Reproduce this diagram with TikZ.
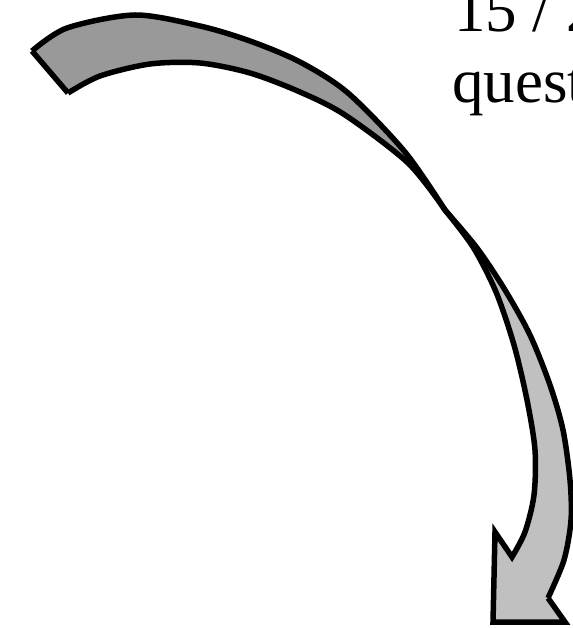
\documentclass[tikz,border=0pt]{standalone}
\usepackage{fontspec}
\setmainfont{Liberation Serif}
\definecolor{backface}{HTML}{999999}
\definecolor{frontface}{HTML}{C0C0C0}
\tikzset{
  outline/.style={draw=black, line width=5.5pt, line join=miter, miter limit=10},
  label/.style={anchor=base west, inner sep=0pt, font=\fontsize{63}{70}\selectfont}
}
\begin{document}
\begin{tikzpicture}[x=1pt,y=-1pt]
\useasboundingbox (0,0) rectangle (572,628);
\def\topedge{(32,51) (67,28) (135,15) (200,26) (250,41) (300,62) (348,93) (405,152) (445,210)}
\def\lowedge{(445,210) (408,163) (345,115) (300,92) (250,73) (200,63) (150,64) (100,76) (68,93)}
\def\leftedge{(445,210) (473,247) (496,292) (514,345) (527,400) (535,450) (534,495) (525,532) (512,557)}
\def\rightedge{(548,598) (564,560) (571,520) (570,480) (563,430) (550,385) (530,335) (505,290) (477,248) (445,210)}
% dark (back) lobe
\fill[backface] plot[smooth] coordinates \topedge -- plot[smooth] coordinates \lowedge -- cycle;
% light (front) lobe
\fill[frontface] plot[smooth] coordinates \leftedge
  -- (495,532) -- (493,622) -- (565,622) -- (548,598)
  -- plot[smooth] coordinates \rightedge -- cycle;
% outline
\draw[outline] (68,93) -- (32,51)
  plot[smooth] coordinates \topedge
  plot[smooth] coordinates \leftedge
  -- (495,532) -- (493,622) -- (565,622) -- (548,598);
\draw[outline] plot[smooth] coordinates \rightedge
  plot[smooth] coordinates \lowedge;
% text
\node[label] (t1) at (454,32) {15 / 2};
\node[label] (t2) at (452,103) {quest};
\end{tikzpicture}
\end{document}
